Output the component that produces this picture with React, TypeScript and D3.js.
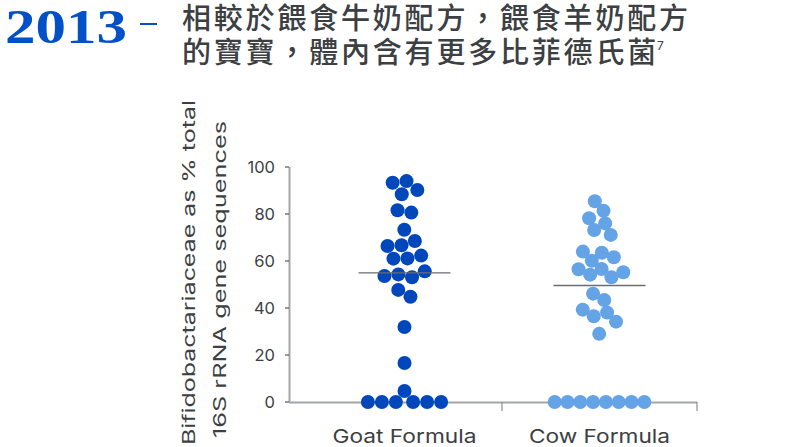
import { useEffect, useMemo } from "react";
import * as d3 from "d3";

// values (Bifidobacteriaceae as % of total 16S rRNA sequences)
const categories = ["Goat Formula", "Cow Formula"];
const goatValues = [
  94.0, 93.3, 90.2, 88.4, 81.6, 80.6, 73.3, 68.5, 66.7, 66.4, 62.3, 61.1, 61.0,
  55.6, 54.3, 53.6, 53.1, 47.7, 44.8, 31.9, 16.6, 4.7, 0, 0, 0, 0, 0, 0,
];
const cowValues = [
  85.4, 81.4, 78.2, 76.0, 73.2, 71.1, 64.0, 63.5, 61.6, 60.1, 56.6, 56.5, 55.2,
  54.2, 53.1, 46.1, 43.4, 39.3, 38.1, 36.5, 34.2, 29.0, 0, 0, 0, 0, 0, 0, 0, 0,
];
const yTicks = [0, 20, 40, 60, 80, 100];
const titleYear = "2013";
const titleLines = ["相較於餵食牛奶配方，餵食羊奶配方", "的寶寶，體內含有更多比菲德氏菌"];
const titleNote = "7";
const yTitleLines = ["Bifidobactariaceae as % total", "16S rRNA gene sequences"];

const colors = ["#0047bb", "#64a3e6"];
const SANS = "Inter, 'Liberation Sans', sans-serif";
const CJK = "'Noto Sans CJK TC', 'Noto Sans CJK SC', sans-serif";

const width = 800;
const height = 447;
const R = 7;

interface Node extends d3.SimulationNodeDatum {
  v: number;
}

export default function App() {
  useEffect(() => {
    document.body.style.margin = "0";
  }, []);

  const x = d3.scaleBand<string>().domain(categories).range([307, 697]);
  const y = d3.scaleLinear().domain([0, 100]).range([402, 167]);

  // beeswarm: y fixed to the value, collisions pushed out sideways
  const groups = useMemo(() => {
    return [goatValues, cowValues].map((vals, gi) => {
      const cx = x(categories[gi])! + x.bandwidth() / 2;
      const nodes: Node[] = vals.map((v) => ({ v, x: cx, y: y(v), fy: y(v) }));
      const sim = d3
        .forceSimulation(nodes)
        .force("x", d3.forceX<Node>(cx).strength(0.04))
        .force("collide", d3.forceCollide<Node>(gi === 0 ? R : R - 0.6).iterations(4))
        .stop();
      for (let i = 0; i < 400; i++) sim.tick();
      return { cx, nodes, median: d3.median(vals)! };
    });
  }, []);

  return (
    <svg width={width} height={height} style={{ display: "block" }}>
      {/* heading */}
      <text
        x={5}
        y={43}
        fontFamily="'Liberation Serif', serif"
        fontWeight="bold"
        fontSize={48}
        fill="#0050c8"
        textLength={122}
        lengthAdjust="spacingAndGlyphs"
      >
        {titleYear}
      </text>
      <line x1={140} x2={157} y1={24} y2={24} stroke="#0050c8" strokeWidth={2} />
      {titleLines.map((t, i) => (
        <text
          key={t}
          x={182}
          y={29 + i * 34}
          fontFamily={CJK}
          fontWeight={500}
          fontSize={29}
          letterSpacing={2.8}
          fill="#3c4043"
        >
          {t}
        </text>
      ))}
      <text x={657} y={50} fontFamily={SANS} fontSize={12} fill="#3c4043">
        {titleNote}
      </text>

      {/* y axis title */}
      <text
        transform="translate(195,445) rotate(-90)"
        fontFamily={SANS}
        fontSize={17}
        fill="#3c4043"
        textLength={345}
        lengthAdjust="spacingAndGlyphs"
      >
        {yTitleLines[0]}
      </text>
      <text
        transform="translate(226,438) rotate(-90)"
        fontFamily={SANS}
        fontSize={17}
        fill="#3c4043"
        textLength={317}
        lengthAdjust="spacingAndGlyphs"
      >
        {yTitleLines[1]}
      </text>

      {/* y axis */}
      <line x1={289.5} x2={289.5} y1={y(100)} y2={y(0)} stroke="#a3a6a9" strokeWidth={2} />
      {yTicks.map((t) => (
        <g key={t} transform={`translate(0,${y(t)})`}>
          <line x1={285} x2={289} stroke="#555" strokeWidth={1.2} />
          <text
            x={275}
            dy="0.36em"
            textAnchor="end"
            fontFamily={SANS}
            fontSize={16.5}
            fill="#3c4043"
          >
            {t}
          </text>
        </g>
      ))}

      {/* x axis */}
      <line x1={289} x2={697} y1={y(0) + 0.5} y2={y(0) + 0.5} stroke="#a3a6a9" strokeWidth={2} />
      {categories.map((c) => (
        <g key={c}>
          <line
            x1={x(c)! + x.bandwidth()}
            x2={x(c)! + x.bandwidth()}
            y1={y(0)}
            y2={y(0) + 9}
            stroke="#8a8d90"
            strokeWidth={1.2}
          />
          <text
            x={x(c)! + x.bandwidth() / 2}
            y={443}
            textAnchor="middle"
            fontFamily={SANS}
            fontSize={19}
            fill="#3c4043"
            textLength={c === "Goat Formula" ? 144 : 141}
            lengthAdjust="spacingAndGlyphs"
          >
            {c}
          </text>
        </g>
      ))}

      {/* dots and medians */}
      {groups.map((g, gi) => (
        <g key={gi}>
          {g.nodes.map((n, i) => (
            <circle key={i} cx={n.x} cy={n.y} r={R} fill={colors[gi]} />
          ))}
          <line
            x1={g.cx - 46}
            x2={g.cx + 46}
            y1={y(g.median)}
            y2={y(g.median)}
            stroke="#6b6d70"
            strokeWidth={1.4}
          />
        </g>
      ))}
    </svg>
  );
}
